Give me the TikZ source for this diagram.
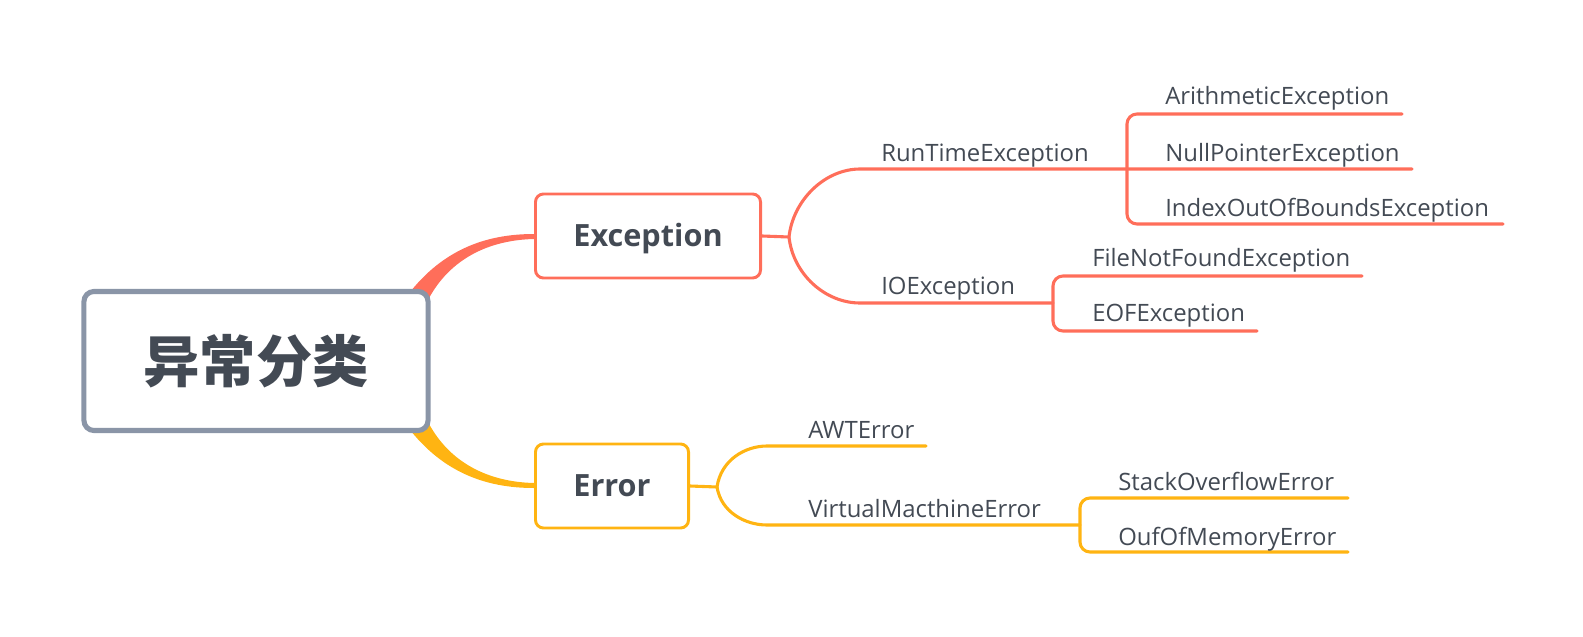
\documentclass[tikz,border=0pt]{standalone}
\usepackage{fontspec}
\setmainfont{Open Sans}
\newfontfamily\cjk{Noto Sans CJK SC}
\usetikzlibrary{positioning}
\definecolor{mmexc}{HTML}{FF6E5A}
\definecolor{mmerr}{HTML}{FFB412}
\definecolor{mmgrey}{HTML}{8A95A7}
\definecolor{mmtext}{HTML}{434A54}
\tikzset{
  topic/.style ={rectangle, rounded corners=0.25cm, draw=mmgrey, line width=3.6pt,
                 fill=white, text=mmtext, minimum width=8.6cm, minimum height=3.475cm,
                 inner sep=0pt, font=\cjk\bfseries\fontsize{40}{40}\selectfont},
  sub/.style   ={rectangle, rounded corners=0.2cm, line width=2.1pt, fill=white,
                 text=mmtext, minimum height=2.1cm, inner sep=0pt,
                 text height=15.6pt, text depth=0pt,
                 font=\bfseries\fontsize{21.8}{21.8}\selectfont},
  lbl/.style   ={anchor=base west, inner sep=0pt, text=mmtext,
                 font=\fontsize{17}{17}\selectfont},
  br/.style    ={line width=2.2pt, line cap=round},
  brx/.style   ={br, draw=mmexc, rounded corners=0.25cm},
  bre/.style   ={br, draw=mmerr, rounded corners=0.25cm}
}

\begin{document}
\begin{tikzpicture}[x=0.025cm, y=-0.025cm]
  \useasboundingbox (0,0) rectangle (1583,637);

  % tapered main branches
  \fill[mmexc] (404,300) .. controls (440,250) and (485,234) .. (534,234)
    -- (534,239) .. controls (490,240) and (450,258) .. (428,300) -- cycle;
  \fill[mmerr] (404,422) .. controls (440,472) and (485,488) .. (534,488)
    -- (534,483) .. controls (490,482) and (450,464) .. (428,422) -- cycle;

  \node[topic] (root) at (256,361) {异常分类};
  \node[sub,draw=mmexc,minimum width=5.625cm] (exc) at (648,236) {Exception};
  \node[sub,draw=mmerr,minimum width=3.825cm] (err) at (612,486) {Error};

  % Exception side
  \coordinate (excF) at (789,237);
  \coordinate (rteS) at (870,169);
  \coordinate (rteV) at (1127,169);
  \coordinate (ioeS) at (870,303);
  \coordinate (ioeV) at (1053,303);
  \coordinate (ariE) at (1402,114);
  \coordinate (npeE) at (1412,169);
  \coordinate (iobE) at (1503,224);
  \coordinate (fnfE) at (1362,276);
  \coordinate (eofE) at (1257,331);

  \draw[brx] (exc.east) -- (excF);
  \draw[brx] (excF) .. controls (793,200) and (825,169) .. (rteS) -- (npeE);
  \draw[brx] (excF) .. controls (793,274) and (825,303) .. (ioeS) -- (ioeV);
  \draw[brx] (ariE) -| (rteV) |- (iobE);
  \draw[brx] (fnfE) -| (ioeV) |- (eofE);

  \node[lbl] (rte) at (881,161) {RunTimeException};
  \node[lbl] (ioe) at (881,294) {IOException};
  \node[lbl] (ari) at (1165,105) {ArithmeticException};
  \node[lbl] (npe) at (1165,161) {NullPointerException};
  \node[lbl] (iob) at (1165,216) {IndexOutOfBoundsException};
  \node[lbl] (fnf) at (1092,266) {FileNotFoundException};
  \node[lbl] (eof) at (1092,321) {EOFException};

  % Error side
  \coordinate (errF) at (717,487);
  \coordinate (awtS) at (777,446);
  \coordinate (awtE) at (926,446);
  \coordinate (vmeS) at (777,525);
  \coordinate (vmeV) at (1080,525);
  \coordinate (soeE) at (1348,498);
  \coordinate (oomE) at (1348,552);

  \draw[bre] (err.east) -- (errF);
  \draw[bre] (errF) .. controls (721,460) and (745,446) .. (awtS) -- (awtE);
  \draw[bre] (errF) .. controls (721,512) and (745,525) .. (vmeS) -- (vmeV);
  \draw[bre] (soeE) -| (vmeV) |- (oomE);

  \node[lbl] (awt) at (808,438) {AWTError};
  \node[lbl] (vme) at (808,517) {VirtualMacthineError};
  \node[lbl] (soe) at (1118,490) {StackOverflowError};
  \node[lbl] (oom) at (1118,545) {OufOfMemoryError};
\end{tikzpicture}
\end{document}
